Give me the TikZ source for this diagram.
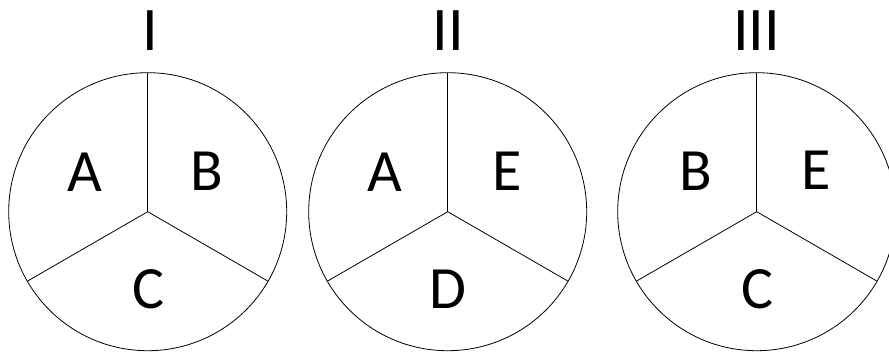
\documentclass[tikz,border=0pt]{standalone}
\usepackage{fontspec}
\setmainfont{Carlito}
\begin{document}
\begin{tikzpicture}[x=1pt,y=1pt,
  disc/.style={draw=black,line width=0.8pt},
  divider/.style={draw=black,line width=0.8pt},
  sector/.style={anchor=base,inner sep=0pt,font=\fontsize{60}{60}\selectfont},
  title/.style={anchor=base,inner sep=0pt,font=\fontsize{62}{62}\selectfont}]
\useasboundingbox (0,0) rectangle (889,351);
\begin{scope}
\clip (0,0) rectangle (889,351);
% centres
\coordinate (c1) at (147.7,139.3);
\coordinate (c2) at (447.7,139.3);
\coordinate (c3) at (756.7,139.3);
\foreach \c in {c1,c2,c3}{
  \draw[disc] (\c) circle (139);
  \draw[divider] (\c) -- ++(90:139);
  \draw[divider] (\c) -- ++(210:139);
  \draw[divider] (\c) -- ++(330:139);
}
\end{scope}
% titles
\node[title] (t1) at (150,300.3) {I};
\node[title] (t2) at (448.3,300.3) {II};
\node[title] (t3) at (756.7,300.3) {III};
% circle I
\node[sector] (a1) at (85.2,159.5) {A};
\node[sector] (b1) at (207,160.5) {B};
\node[sector] (cc1) at (148.5,42.5) {C};
% circle II
\node[sector] (a2) at (385.2,159.5) {A};
\node[sector] (e2) at (507.3,160.5) {E};
\node[sector] (d2) at (448.3,42.7) {D};
% circle III
\node[sector] (b3) at (695.5,160.3) {B};
\node[sector] (e3) at (816.3,161) {E};
\node[sector] (cc3) at (757.5,43) {C};
\end{tikzpicture}
\end{document}
